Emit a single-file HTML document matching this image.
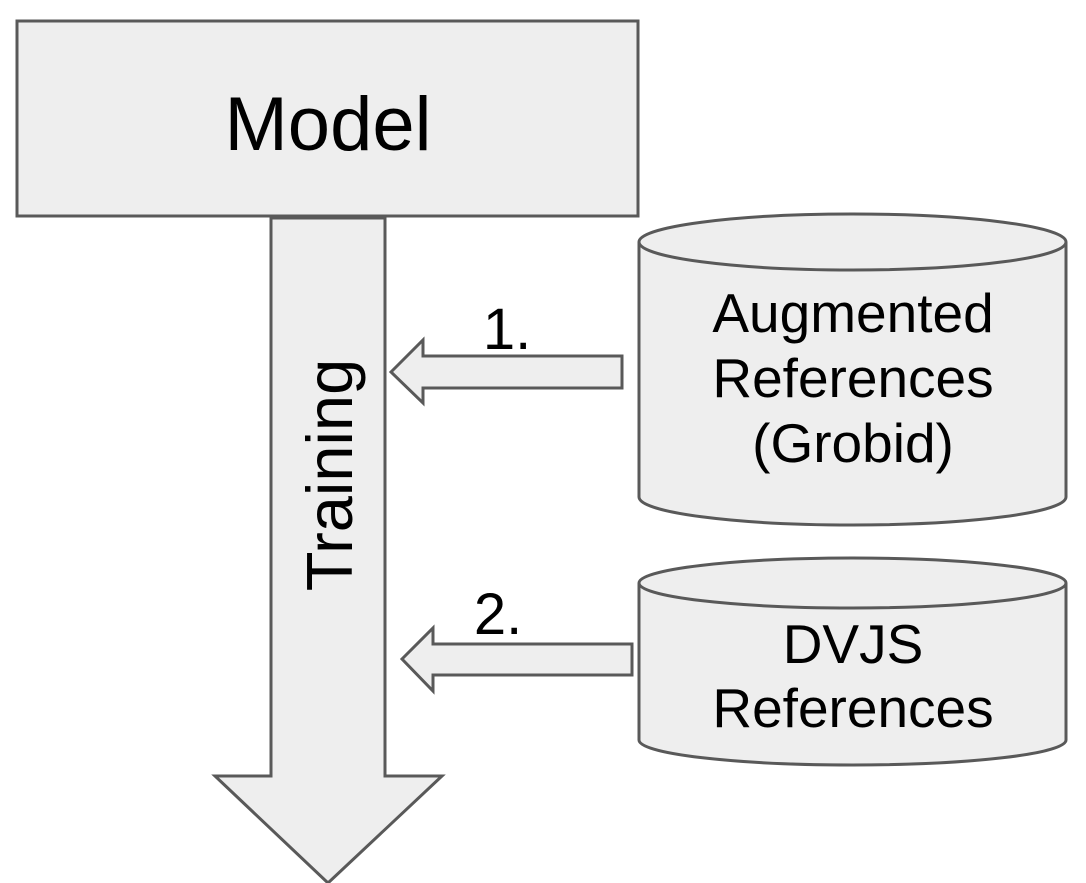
<!DOCTYPE html>
<html><head><style>body{margin:0;background:#fff}svg{display:block}</style></head><body>
<svg width="1086" height="883" viewBox="0 0 1086 883" xmlns="http://www.w3.org/2000/svg" font-family="Liberation Sans, sans-serif">
<g fill="#eeeeee" stroke="#595959" stroke-width="3" stroke-linejoin="miter">
<rect x="17" y="21" width="621" height="195"/>
<polygon points="271,218 385,218 385,776 442,776 328,883 215,776 271,776"/>
<polygon points="391,372 423,340 423,356 622,356 622,388 423,388 423,403"/>
<polygon points="402,659 433,628 433,644 632,644 632,675 433,675 433,691"/>
<path d="M639,242 A213.5,28 0 0 1 1066,242 L1066,497 A213.5,28 0 0 1 639,497 Z"/>
<path d="M639,242 A213.5,28 0 0 0 1066,242" fill="none"/>
<path d="M639,583 A213.5,25 0 0 1 1066,583 L1066,740 A213.5,25 0 0 1 639,740 Z"/>
<path d="M639,583 A213.5,25 0 0 0 1066,583" fill="none"/>
</g>
<g fill="#000" text-anchor="middle">
<text x="328" y="150" font-size="76">Model</text>
<text transform="translate(352,475) rotate(-90)" font-size="65">Training</text>
<text x="507" y="349" font-size="58">1.</text>
<text x="498" y="634" font-size="58">2.</text>
<text x="853" y="332" font-size="55">Augmented</text>
<text x="853" y="397" font-size="55">References</text>
<text x="853" y="462" font-size="55">(Grobid)</text>
<text x="853" y="663" font-size="55">DVJS</text>
<text x="853" y="727" font-size="55">References</text>
</g>
</svg>
</body></html>
